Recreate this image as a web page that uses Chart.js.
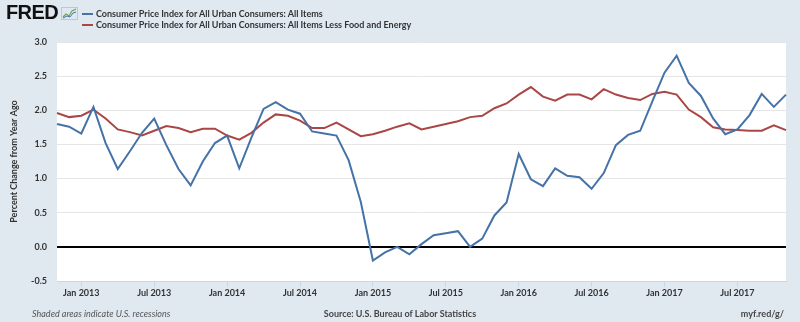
<!DOCTYPE html>
<html>
<head>
<meta charset="utf-8">
<script src="https://cdn.jsdelivr.net/npm/chart.js@4"></script>
<style>
  html, body { margin: 0; padding: 0; background: #e1e9f0; }
  #wrap { position: relative; width: 800px; height: 322px; overflow: hidden; }
  canvas { position: absolute; left: 0; top: 0; }
  .t { position: absolute; white-space: nowrap; color: #333; font-family: Lato, "Liberation Sans", sans-serif; }
  #logo { left: 6px; top: 1px; font-family: "Liberation Sans", Arial, sans-serif; font-weight: 900; font-size: 20px; letter-spacing: -0.6px; color: #111; }
  #icon { position: absolute; left: 61px; top: 7px; width: 17px; height: 13px; }
  .leg { font-size: 9px; font-weight: 700; left: 82px; }
  .leg i { display: inline-block; width: 11px; height: 2px; vertical-align: middle; margin-right: 3px; position: relative; top: -1px; }
  #foot1 { left: 32px; top: 308px; font-size: 9px; font-style: italic; color: #555; }
  #foot2 { left: 0; width: 800px; text-align: center; top: 308px; font-size: 9px; font-weight: 700; color: #444; }
  #foot3 { right: 16px; top: 308px; font-size: 9px; font-weight: 700; color: #444; }
</style>
</head>
<body>
<div id="wrap">
  <canvas id="c" width="800" height="322"></canvas>
  <div class="t" id="logo">FRED</div>
  <svg id="icon" viewBox="0 0 17 13"><rect x="0.5" y="0.5" width="16" height="12" fill="#dfe8f0" stroke="#b9c9d8"/><polyline points="2,10 5,7 8,9 11,4 15,2" fill="none" stroke="#6aa84f" stroke-width="1.2"/><polyline points="2,11 6,9 9,10 12,6 15,5" fill="none" stroke="#4572a7" stroke-width="1"/></svg>
  <div class="t leg" id="leg1" style="top:8px"><i style="background:#4572a7"></i>Consumer Price Index for All Urban Consumers: All Items</div>
  <div class="t leg" id="leg2" style="top:19px"><i style="background:#aa4643"></i>Consumer Price Index for All Urban Consumers: All Items Less Food and Energy</div>
  <div class="t" id="foot1">Shaded areas indicate U.S. recessions</div>
  <div class="t" id="foot2">Source: U.S. Bureau of Labor Statistics</div>
  <div class="t" id="foot3">myf.red/g/</div>
</div>
<script>
const months = [
  'Nov 2012','Dec 2012',
  'Jan 2013','Feb 2013','Mar 2013','Apr 2013','May 2013','Jun 2013','Jul 2013','Aug 2013','Sep 2013','Oct 2013','Nov 2013','Dec 2013',
  'Jan 2014','Feb 2014','Mar 2014','Apr 2014','May 2014','Jun 2014','Jul 2014','Aug 2014','Sep 2014','Oct 2014','Nov 2014','Dec 2014',
  'Jan 2015','Feb 2015','Mar 2015','Apr 2015','May 2015','Jun 2015','Jul 2015','Aug 2015','Sep 2015','Oct 2015','Nov 2015','Dec 2015',
  'Jan 2016','Feb 2016','Mar 2016','Apr 2016','May 2016','Jun 2016','Jul 2016','Aug 2016','Sep 2016','Oct 2016','Nov 2016','Dec 2016',
  'Jan 2017','Feb 2017','Mar 2017','Apr 2017','May 2017','Jun 2017','Jul 2017','Aug 2017','Sep 2017','Oct 2017','Nov 2017'
];
const allItems = [
  1.80, 1.76,
  1.66, 2.05, 1.52, 1.14, 1.40, 1.67, 1.88, 1.49, 1.14, 0.90, 1.25, 1.52,
  1.63, 1.15, 1.60, 2.02, 2.12, 2.01, 1.95, 1.69, 1.66, 1.63, 1.27, 0.66,
  -0.20, -0.08, 0.00, -0.11, 0.04, 0.17, 0.20, 0.23, 0.00, 0.12, 0.46, 0.65,
  1.36, 0.99, 0.89, 1.15, 1.04, 1.02, 0.85, 1.08, 1.49, 1.64, 1.70, 2.13,
  2.55, 2.80, 2.40, 2.21, 1.88, 1.65, 1.72, 1.93, 2.24, 2.05, 2.23
];
const coreItems = [
  1.96, 1.90,
  1.92, 2.01, 1.88, 1.72, 1.68, 1.63, 1.70, 1.77, 1.74, 1.68, 1.73, 1.73,
  1.63, 1.57, 1.67, 1.82, 1.94, 1.92, 1.85, 1.74, 1.74, 1.82, 1.72, 1.62,
  1.65, 1.70, 1.76, 1.81, 1.72, 1.76, 1.80, 1.84, 1.90, 1.92, 2.03, 2.10,
  2.23, 2.34, 2.20, 2.14, 2.23, 2.23, 2.16, 2.31, 2.23, 2.18, 2.15, 2.24,
  2.27, 2.23, 2.01, 1.90, 1.75, 1.72, 1.71, 1.70, 1.70, 1.78, 1.71
];
const seriesNames = [
  'Consumer Price Index for All Urban Consumers: All Items',
  'Consumer Price Index for All Urban Consumers: All Items Less Food and Energy'
];
const yTicks = [-0.5, 0.0, 0.5, 1.0, 1.5, 2.0, 2.5, 3.0];

const bgPlugin = {
  id: 'bg',
  beforeDraw(chart) {
    const { ctx, chartArea: a } = chart;
    ctx.save();
    ctx.fillStyle = '#e1e9f0';
    ctx.fillRect(0, 0, chart.width, chart.height);
    ctx.fillStyle = '#ffffff';
    ctx.fillRect(a.left, a.top, a.right - a.left, a.bottom - a.top);
    ctx.restore();
  }
};

const tickFont = { family: 'Lato, "Liberation Sans", sans-serif', size: 9, weight: '700' };

new Chart(document.getElementById('c'), {
  type: 'line',
  data: {
    labels: months,
    datasets: [
      { label: seriesNames[0], data: allItems, borderColor: '#4572a7', borderWidth: 2, pointRadius: 0, tension: 0, fill: false },
      { label: seriesNames[1], data: coreItems, borderColor: '#aa4643', borderWidth: 2, pointRadius: 0, tension: 0, fill: false }
    ]
  },
  options: {
    responsive: false,
    devicePixelRatio: 1,
    animation: false,
    layout: { padding: { left: 0, right: 14, top: 42, bottom: 0 } },
    plugins: { legend: { display: false }, tooltip: { enabled: false } },
    scales: {
      x: {
        type: 'category',
        offset: false,
        afterFit(s) { s.height = 41; },
        grid: { display: true, drawOnChartArea: false, drawTicks: true, tickLength: 6, color: '#ccd6eb' },
        border: { display: true, color: '#ccd6eb', width: 1 },
        ticks: {
          autoSkip: false, maxRotation: 0, minRotation: 0, padding: 1,
          color: '#333', font: tickFont,
          callback(v, i) { const l = months[i]; return (l.startsWith('Jan') || l.startsWith('Jul')) ? l : null; }
        }
      },
      y: {
        min: -0.5, max: 3.0,
        afterFit(s) { s.width = 57; },
        afterBuildTicks(s) { s.ticks = yTicks.map(v => ({ value: v })); },
        grid: {
          drawTicks: false,
          color: c => (c.tick && c.tick.value === 0) ? '#000000' : '#e6e6e6',
          lineWidth: c => (c.tick && c.tick.value === 0) ? 2 : 1
        },
        border: { display: false },
        ticks: { padding: 10, color: '#333', font: tickFont, callback: v => Number(v).toFixed(1) },
        title: { display: true, text: 'Percent Change from Year Ago', color: '#333', font: { family: 'Lato, "Liberation Sans", sans-serif', size: 9, weight: '700' }, padding: { top: 9, bottom: 0 } }
      }
    }
  },
  plugins: [bgPlugin]
});
</script>
</body>
</html>
